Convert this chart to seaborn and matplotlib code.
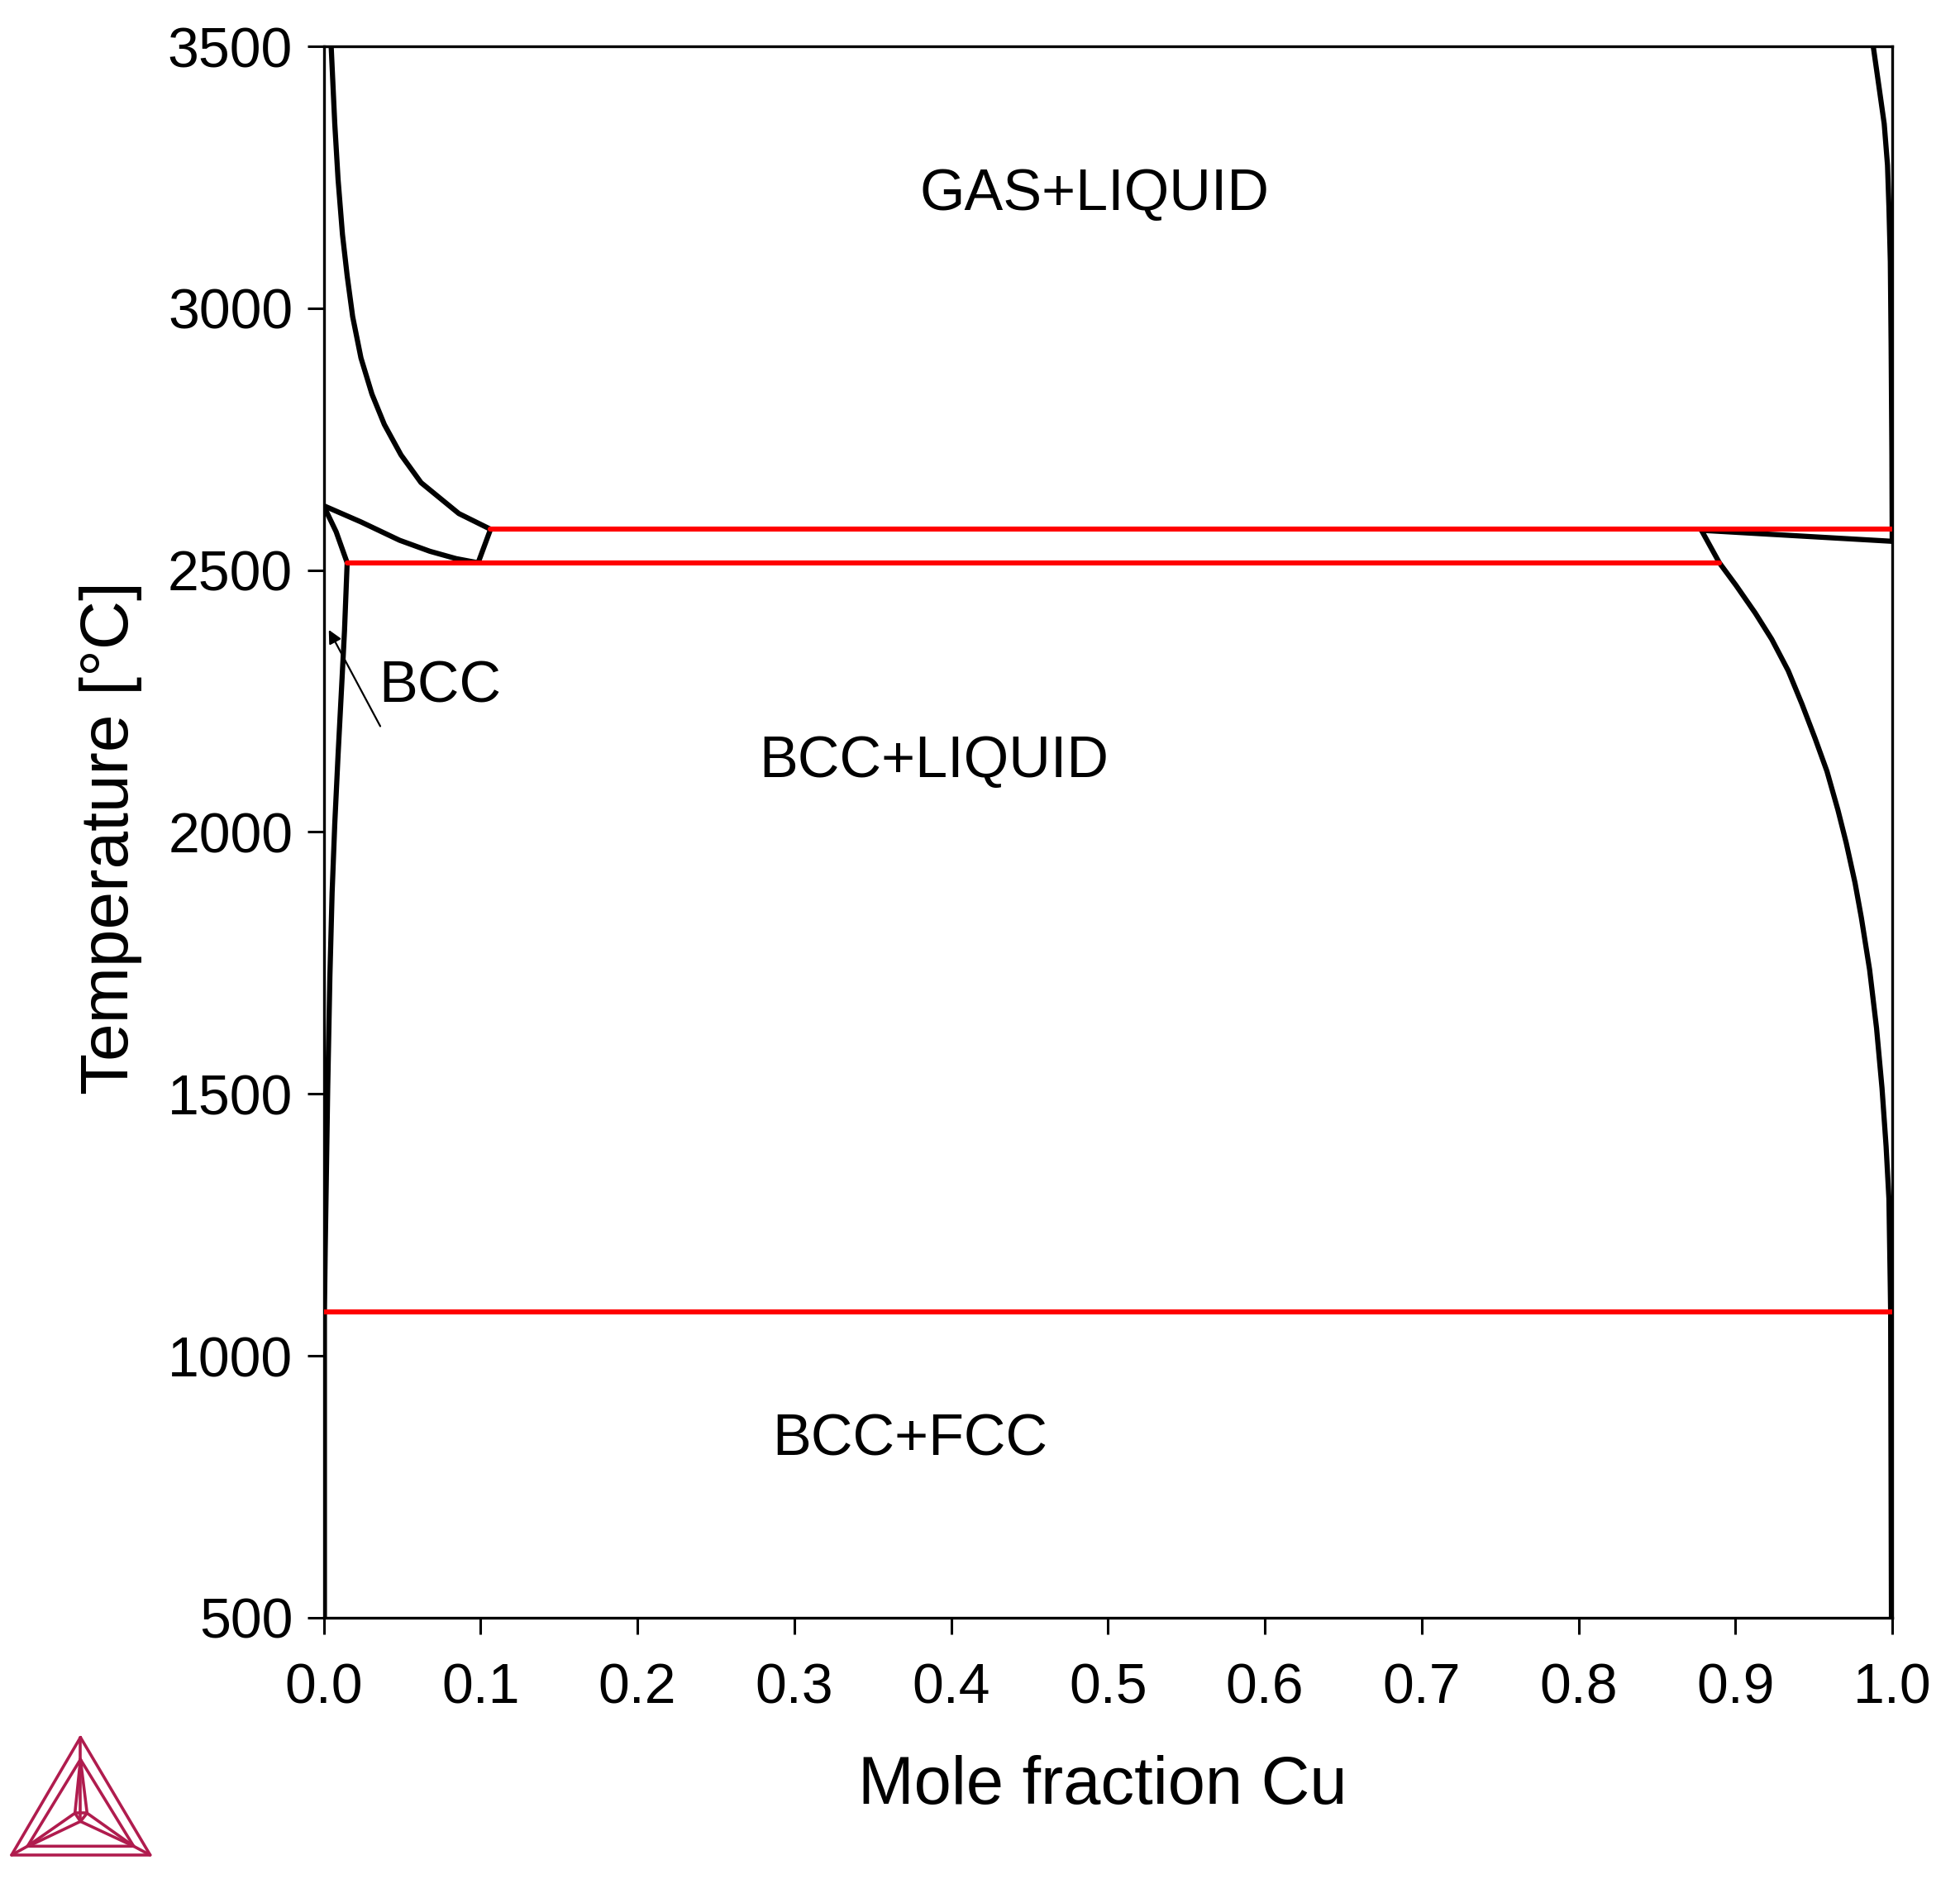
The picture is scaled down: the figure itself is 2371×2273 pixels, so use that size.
import matplotlib

matplotlib.use("Agg")
import matplotlib.pyplot as plt
import seaborn as sns

# Phase boundaries (mole fraction Cu, temperature in C)
gas_left_x = [0.0048, 0.0071, 0.0092, 0.0120, 0.0150, 0.0185, 0.0238, 0.0308, 0.0387, 0.0493, 0.0621, 0.0862, 0.1064]
gas_left_t = [3500, 3352, 3246, 3141, 3062, 2984, 2905, 2836, 2778, 2720, 2667, 2608, 2578]

liquidus_left_x = [0.0, 0.0238, 0.0484, 0.0677, 0.0844, 0.0985, 0.1064]
liquidus_left_t = [2623, 2592, 2557, 2536, 2522, 2514, 2578]

bcc_upper_x = [0.0, 0.0080, 0.0150]
bcc_upper_t = [2623, 2573, 2514]

bcc_solvus_x = [0.0150, 0.0133, 0.0115, 0.0092, 0.0071, 0.0054, 0.0040, 0.0026, 0.0010, 0.0005, 0.0005]
bcc_solvus_t = [2514, 2384, 2279, 2147, 2016, 1884, 1726, 1512, 1202, 1082, 500]

gas_right_x = [0.9879, 0.9917, 0.9949, 0.9970, 0.9979, 0.9988, 0.9993, 0.9998, 1.0]
gas_right_t = [3500, 3420, 3352, 3273, 3194, 3089, 2931, 2720, 2555]

liquid_right_x = [0.8784, 1.0]
liquid_right_t = [2576, 2555]

liquidus_right_x = [
    0.8784, 0.8898, 0.9004, 0.9127, 0.9232, 0.9337, 0.9425, 0.9508, 0.9584, 0.9654, 0.9707,
    0.9763, 0.9803, 0.9856, 0.9900, 0.9935, 0.9961, 0.9979, 0.9988, 0.9990, 0.9995,
]
liquidus_right_t = [
    2576, 2514, 2471, 2418, 2368, 2308, 2244, 2179, 2116, 2042, 1979,
    1903, 1837, 1737, 1626, 1511, 1400, 1300, 1127, 1084, 500,
]

black_curves = [
    (gas_left_x, gas_left_t),
    (liquidus_left_x, liquidus_left_t),
    (bcc_upper_x, bcc_upper_t),
    (bcc_solvus_x, bcc_solvus_t),
    (gas_right_x, gas_right_t),
    (liquid_right_x, liquid_right_t),
    (liquidus_right_x, liquidus_right_t),
]

# Invariant lines
tie_x = [[0.1064, 0.9995], [0.0150, 0.8898], [0.0, 1.0]]
tie_t = [[2578, 2578], [2514, 2514], [1084, 1084]]

x_ticks = [0.0, 0.1, 0.2, 0.3, 0.4, 0.5, 0.6, 0.7, 0.8, 0.9, 1.0]
y_ticks = [500, 1000, 1500, 2000, 2500, 3000, 3500]

phase_labels = ["GAS+LIQUID", "BCC+LIQUID", "BCC+FCC", "BCC"]
phase_x = [0.4912, 0.3891, 0.3740, 0.0743]
phase_t = [3216, 2133, 839, 2276]

# Logo strokes, in pixels of a 660x609 box
logo_strokes = [
    [(292, 95), (42, 522), (545, 522), (292, 95)],
    [(292, 175), (100, 490), (485, 490), (292, 175)],
    [(292, 95), (292, 175)],
    [(42, 522), (100, 490)],
    [(545, 522), (485, 490)],
    [(292, 175), (272, 370), (100, 490)],
    [(292, 175), (316, 370), (485, 490)],
    [(292, 175), (292, 400)],
    [(272, 370), (316, 370)],
    [(272, 370), (292, 400), (316, 370)],
    [(292, 400), (120, 482)],
    [(292, 400), (468, 482)],
]

W, H = 2371, 2273

sns.set_theme(style="ticks")
plt.rcParams["font.family"] = ["Liberation Sans", "DejaVu Sans"]

fig = plt.figure(figsize=(W / 100, H / 100), dpi=100, facecolor="white")
ax = fig.add_axes([391.5 / W, (H - 1957) / H, 1897.5 / W, 1901 / H])

for xs, ts in black_curves:
    sns.lineplot(x=xs, y=ts, sort=False, estimator=None, color="black", lw=4.5, ax=ax, zorder=3)

for xs, ts in zip(tie_x, tie_t):
    sns.lineplot(x=xs, y=ts, sort=False, estimator=None, color="#ff0000", lw=4.4, ax=ax, zorder=4)

ax.set_xlim(0, 1)
ax.set_ylim(500, 3500)
ax.set_xticks(x_ticks, [f"{v:.1f}" for v in x_ticks])
ax.set_yticks(y_ticks)
ax.tick_params(length=14.4, width=2.2, labelsize=49, color="black", labelcolor="black")
ax.tick_params(axis="x", pad=24)
ax.tick_params(axis="y", pad=12.5)
for spine in ax.spines.values():
    spine.set_visible(True)
    spine.set_linewidth(2.4)
    spine.set_color("black")

ax.set_xlabel("Mole fraction Cu", fontsize=58.5, color="black")
ax.set_ylabel("Temperature [°C]", fontsize=59, color="black")
ax.xaxis.set_label_coords(0.4968, -0.0875)
ax.yaxis.set_label_coords(-0.1157, 0.4965)

for label, x, t in zip(phase_labels, phase_x, phase_t):
    ax.text(x, t, label, fontsize=50.5, color="black", ha="center", va="center", zorder=5)

# Arrow from the BCC label to the thin single phase region
ax.annotate(
    "",
    xy=(0.0033, 2386),
    xytext=(0.0361, 2202),
    arrowprops={"arrowstyle": "-|>", "color": "black", "lw": 1.6, "mutation_scale": 24, "shrinkA": 0, "shrinkB": 0},
    zorder=5,
)

# Logo in the bottom left corner
logo = fig.add_axes([0, 0, 220 / W, 203 / H])
logo.set_xlim(0, 660)
logo.set_ylim(609, 0)
logo.axis("off")
for stroke in logo_strokes:
    sns.lineplot(
        x=[p[0] for p in stroke],
        y=[p[1] for p in stroke],
        sort=False,
        estimator=None,
        color="#b01c4e",
        lw=2.6,
        ax=logo,
    )

fig.savefig("out.png", dpi=100)
